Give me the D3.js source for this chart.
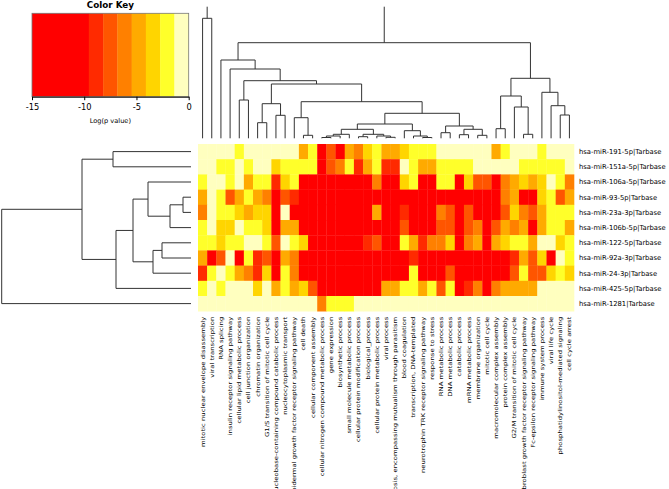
<!DOCTYPE html>
<html><head><meta charset="utf-8">
<script src="https://cdn.jsdelivr.net/npm/d3@7"></script>
<style>
body{margin:0;background:#fff}
svg{display:block}
text{font-family:"DejaVu Sans",sans-serif;fill:#000}
</style>
</head><body>
<svg id="chart" width="669" height="489"></svg>
<script>
// ---------------- data ----------------
const rowLabels = ["hsa-miR-191-5p|Tarbase","hsa-miR-151a-5p|Tarbase","hsa-miR-106a-5p|Tarbase","hsa-miR-93-5p|Tarbase","hsa-miR-23a-3p|Tarbase","hsa-miR-106b-5p|Tarbase","hsa-miR-122-5p|Tarbase","hsa-miR-92a-3p|Tarbase","hsa-miR-24-3p|Tarbase","hsa-miR-425-5p|Tarbase","hsa-miR-1281|Tarbase"];

const colLabels = ["mitotic nuclear envelope disassembly","viral transcription","RNA splicing","insulin receptor signaling pathway","cellular lipid metabolic process","cell junction organization","chromatin organization","G1/S transition of mitotic cell cycle","nucleobase-containing compound catabolic process","nucleocytoplasmic transport","epidermal growth factor receptor signaling pathway","cell death","cellular component assembly","cellular nitrogen compound metabolic process","gene expression","biosynthetic process","small molecule metabolic process","cellular protein modification process","biological_process","cellular protein metabolic process","viral process","symbiosis, encompassing mutualism through parasitism","blood coagulation","transcription, DNA-templated","neurotrophin TRK receptor signaling pathway","response to stress","RNA metabolic process","DNA metabolic process","catabolic process","mRNA metabolic process","membrane organization","mitotic cell cycle","macromolecular complex assembly","protein complex assembly","G2/M transition of mitotic cell cycle","fibroblast growth factor receptor signaling pathway","Fc-epsilon receptor signaling pathway","immune system process","viral life cycle","phosphatidylinositol-mediated signaling","cell cycle arrest"];

// log(p value) per miRNA (rows), one value per GO term (columns)
const miR191 = [-0.6,-0.6,-0.6,-0.6,-2,-0.6,-0.6,-0.6,-0.6,-0.6,-0.6,-4.8,-2,-12,-7.5,-12,-4.8,-6.1,-3.4,-2,-4.8,-4.8,-3.4,-2,-2,-2,-0.6,-0.6,-0.6,-0.6,-0.6,-0.6,-4.8,-2,-0.6,-0.6,-0.6,-2,-0.6,-0.6,-0.6];
const miR151a = [-0.6,-0.6,-2,-2,-0.6,-2,-0.6,-0.6,-3.4,-2,-2,-2,-2,-12,-7.5,-6.1,-2,-8.9,-4.8,-2,-8.9,-8.9,-0.6,-2,-4.8,-4.8,-2,-2,-2,-2,-0.6,-0.6,-0.6,-0.6,-0.6,-2,-2,-2,-2,-2,-0.6];
const miR106a = [-2,-0.6,-0.6,-2,-0.6,-4.8,-2,-2,-8.9,-3.4,-2,-12,-12,-12,-12,-12,-12,-12,-12,-6.1,-12,-12,-3.4,-2,-12,-12,-2,-2,-12,-3.4,-7.5,-7.5,-12,-6.1,-4.8,-3.4,-4.8,-3.4,-0.6,-2,-6.1];
const miR93 = [-4.8,-0.6,-2,-7.5,-4.8,-2,-4.8,-6.1,-12,-7.5,-8.9,-12,-12,-12,-12,-12,-12,-12,-12,-12,-12,-12,-12,-12,-12,-12,-12,-12,-12,-12,-12,-12,-12,-6.1,-4.8,-12,-12,-3.4,-2,-7.5,-4.8];
const miR23a = [-6.1,-0.6,-2,-2,-3.4,-4.8,-3.4,-3.4,-12,-0.6,-12,-12,-12,-12,-12,-12,-12,-12,-12,-4.8,-12,-12,-8.9,-12,-12,-12,-6.1,-7.5,-12,-7.5,-12,-12,-12,-7.5,-3.4,-6.1,-7.5,-4.8,-2,-2,-2];
const miR106b = [-2,-0.6,-3.4,-3.4,-0.6,-2,-2,-3.4,-12,-4.8,-4.8,-12,-12,-12,-12,-12,-12,-12,-12,-12,-12,-12,-7.5,-12,-12,-12,-7.5,-7.5,-12,-7.5,-6.1,-12,-7.5,-4.8,-6.1,-4.8,-12,-4.8,-2,-2,-4.8];
const miR122 = [-2,-2,-3.4,-2,-2,-0.6,-0.6,-2,-7.5,-0.6,-2,-3.4,-12,-12,-12,-12,-12,-12,-8.9,-7.5,-12,-12,-2,-4.8,-8.9,-6.1,-6.1,-3.4,-12,-6.1,-4.8,-12,-4.8,-3.4,-2,-2,-4.8,-0.6,-0.6,-3.4,-2];
const miR92a = [-4.8,-12,-7.5,-0.6,-12,-2,-8.9,-7.5,-12,-4.8,-6.1,-12,-12,-12,-12,-12,-12,-12,-12,-12,-12,-12,-12,-8.9,-12,-12,-12,-12,-12,-12,-12,-12,-12,-12,-8.9,-4.8,-7.5,-3.4,-12,-0.6,-2];
const miR24 = [-8.9,-2,-0.6,-2,-4.8,-6.1,-8.9,-3.4,-12,-2,-6.1,-12,-12,-12,-12,-12,-12,-12,-12,-12,-12,-12,-12,-2,-12,-12,-12,-7.5,-12,-12,-12,-12,-12,-12,-7.5,-2,-7.5,-7.5,-3.4,-2,-3.4];
const miR425 = [-2,-0.6,-2,-0.6,-0.6,-0.6,-3.4,-0.6,-4.8,-2,-4.8,-3.4,-7.5,-12,-12,-12,-12,-12,-12,-12,-4.8,-4.8,-2,-2,-4.8,-2,-7.5,-2,-12,-8.9,-6.1,-12,-6.1,-4.8,-4.8,-4.8,-4.8,-0.6,-0.6,-0.6,-0.6];
const miR1281 = [-0.6,-0.6,-0.6,-0.6,-0.6,-0.6,-0.6,-0.6,-0.6,-0.6,-0.6,-0.6,-0.6,-6.1,-2,-2,-2,-0.6,-0.6,-0.6,-0.6,-0.6,-0.6,-0.6,-0.6,-0.6,-0.6,-0.6,-0.6,-0.6,-0.6,-0.6,-0.6,-0.6,-0.6,-0.6,-0.6,-0.6,-0.6,-0.6,-0.6];
const matrix = [miR191, miR151a, miR106a, miR93, miR23a, miR106b, miR122, miR92a, miR24, miR425, miR1281];

// colour key
const keyBreaks = [-15, -9.56, -8.19, -6.83, -5.46, -4.1, -2.73, -1.37, 0];
const keyColors = ["#FF0000","#FF2A00","#FF5500","#FF8000","#FFAA00","#FFD500","#FFFF2A","#FFFFBF"];
const keyTicks = [-15, -10, -5, 0];

// dendrograms, hclust-style merge lists: [a, b, height]; negative = leaf (1-based), positive = earlier merge
const rowMerge = [[-4,-5,8],[1,-6,21],[-3,2,43],[-7,-8,29],[4,-9,38],[3,5,58],[6,-10,75],[-1,-2,78],[8,7,109],[9,-11,189.3]];
const colMerge = [[-1,-2,120],[-5,-6,38.3],[-7,-8,15.6],[-9,-10,23],[3,4,34.6],[-12,-13,3],[-11,6,20.6],[-14,-15,0.8],[8,-16,2.3],[9,-17,4],
  [-18,-19,1.6],[-21,-22,1],[-20,12,2.3],[11,13,4],[10,14,9],[-25,-26,0.8],[-24,16,2.3],[-23,17,7.6],[15,18,14.3],[-27,-28,5.6],
  [-29,-30,3.6],[-31,-32,3],[21,22,9],[20,23,12.3],[19,24,25],[7,25,36.6],[5,26,54.3],[2,27,57.6],[-4,28,69.3],[-3,29,78.3],
  [-33,-34,9.6],[-36,-37,4],[-35,32,31.3],[31,33,42.3],[-40,-41,23.3],[-39,35,32.6],[-38,36,46],[34,37,60],[30,38,95.6],[1,39,131.6]];

// ---------------- drawing ----------------
const svg = d3.select("#chart");
const hm = {x0:198, x1:574, y0:144, y1:311.2};

const x = d3.scaleBand().domain(d3.range(colLabels.length)).range([hm.x0, hm.x1]).paddingInner(0).paddingOuter(0);
const y = d3.scaleBand().domain(d3.range(rowLabels.length)).range([hm.y0, hm.y1]).paddingInner(0).paddingOuter(0);
const color = d3.scaleThreshold().domain(keyBreaks.slice(1, -1)).range(keyColors);

// heatmap cells
const cells = [];
matrix.forEach((row, r) => row.forEach((v, c) => cells.push({r, c, v})));
svg.append("g").selectAll("rect").data(cells).join("rect")
  .attr("x", d => x(d.c)).attr("y", d => y(d.r))
  .attr("width", x.bandwidth() + 0.3).attr("height", y.bandwidth() + 0.3)
  .attr("fill", d => color(d.v));

// row labels
svg.append("g").selectAll("text").data(rowLabels).join("text")
  .attr("x", hm.x1 + 5).attr("y", (d, i) => y(i) + y.bandwidth() / 2)
  .attr("dy", "0.36em").attr("font-size", 6.8).text(d => d);

// column labels
svg.append("g").selectAll("text").data(colLabels).join("text")
  .attr("transform", (d, i) => `translate(${x(i) + x.bandwidth() / 2},${hm.y1 + 5.5}) rotate(-90) scale(1,0.8)`)
  .attr("text-anchor", "end").attr("dy", "0.36em").attr("font-size", 6.9).text(d => d);

// dendrogram helper
function dendro(merge, leafPos, hScale, horizontal, skipRootBar) {
  const pos = [], hgt = [];
  const P = k => k < 0 ? leafPos(-k - 1) : pos[k - 1];
  const H = k => k < 0 ? 0 : hgt[k - 1];
  const paths = [];
  merge.forEach(([a, b, h], i) => {
    const pa = P(a), pb = P(b), ha = H(a), hb = H(b);
    pos[i] = (pa + pb) / 2; hgt[i] = h;
    const pt = (p, hh) => horizontal ? [hScale(hh), p] : [p, hScale(hh)];
    const isRoot = i === merge.length - 1;
    if (isRoot && skipRootBar) {
      paths.push([pt(pa, ha), pt(pa, h)]);
      paths.push([pt(pb, hb), pt(pb, h)]);
    } else {
      paths.push([pt(pa, ha), pt(pa, h), pt(pb, h), pt(pb, hb)]);
    }
  });
  return paths;
}
const line = d3.line();

// column dendrogram
const colH = d3.scaleLinear().domain([0, d3.max(colMerge, d => d[2])]).range([138.3, 6.7]);
const colPaths = dendro(colMerge, i => x(i) + x.bandwidth() / 2, colH, false, true);
svg.append("g").selectAll("path").data(colPaths).join("path")
  .attr("d", line).attr("fill", "none").attr("stroke", "#333").attr("stroke-width", 1);

// row dendrogram
const rowH = d3.scaleLinear().domain([0, d3.max(rowMerge, d => d[2])]).range([191, 1.7]);
const rowPaths = dendro(rowMerge, i => y(i) + y.bandwidth() / 2, rowH, true, false);
svg.append("g").selectAll("path").data(rowPaths).join("path")
  .attr("d", line).attr("fill", "none").attr("stroke", "#333").attr("stroke-width", 1);

// colour key
const key = {x0:32, x1:188.7, y0:13.3, y1:96.7};
const kx = d3.scaleLinear().domain([keyBreaks[0], keyBreaks[keyBreaks.length - 1]]).range([key.x0, key.x1]);
const kg = svg.append("g");
kg.selectAll("rect").data(keyColors).join("rect")
  .attr("x", (d, i) => kx(keyBreaks[i])).attr("y", key.y0)
  .attr("width", (d, i) => kx(keyBreaks[i + 1]) - kx(keyBreaks[i]) + 0.3)
  .attr("height", key.y1 - key.y0).attr("fill", d => d);
kg.append("rect").attr("x", key.x0).attr("y", key.y0).attr("width", key.x1 - key.x0).attr("height", key.y1 - key.y0)
  .attr("fill", "none").attr("stroke", "#777").attr("stroke-width", 0.8);
const kaxis = kg.append("g").attr("transform", `translate(0,${key.y1})`)
  .call(d3.axisBottom(kx).tickValues(keyTicks).tickSize(3.5).tickSizeOuter(0).tickFormat(d => String(d)));
kaxis.select(".domain").attr("stroke", "#000");
kaxis.selectAll(".tick line").attr("stroke", "#000");
kaxis.selectAll(".tick text").attr("font-family", "DejaVu Sans").attr("font-size", 8.3).attr("dy", "0.95em").attr("y", 5).attr("fill", "#000");
kg.append("text").attr("x", (key.x0 + key.x1) / 2).attr("y", 8.3).attr("text-anchor", "middle")
  .attr("font-size", 8.8).attr("font-weight", "bold").text("Color Key");
kg.append("text").attr("x", (key.x0 + key.x1) / 2).attr("y", 122.5).attr("text-anchor", "middle")
  .attr("font-size", 6.6).text("Log(p value)");
</script>
</body></html>
